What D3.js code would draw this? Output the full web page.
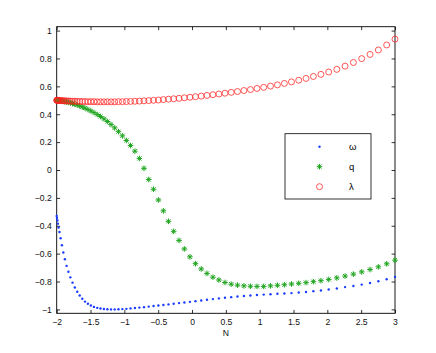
<!DOCTYPE html>
<html>
<head>
<meta charset="utf-8">
<script src="https://cdn.jsdelivr.net/npm/d3@7"></script>
<style>
html,body{margin:0;padding:0;background:#fff;}
svg{display:block;}
text{font-family:"Liberation Sans",Arial,Helvetica,sans-serif;}
</style>
</head>
<body>
<svg id="chart" width="436" height="353"></svg>
<script>
// ---- data ----
const N = [-2.000,-1.996,-1.990,-1.982,-1.972,-1.959,-1.942,-1.923,-1.902,-1.879,
 -1.854,-1.827,-1.798,-1.766,-1.732,-1.697,-1.660,-1.622,-1.582,-1.539,
 -1.495,-1.449,-1.401,-1.353,-1.302,-1.251,-1.197,-1.143,-1.087,-1.029,
 -0.970,-0.909,-0.844,-0.778,-0.710,-0.640,-0.569,-0.497,-0.423,-0.348,
 -0.271,-0.192,-0.113,-0.031,0.051,0.136,0.221,0.309,0.397,0.487,
 0.579,0.672,0.767,0.863,0.960,1.059,1.160,1.262,1.365,1.470,
 1.577,1.685,1.794,1.905,2.020,2.140,2.262,2.385,2.508,2.631,
 2.754,2.877,3.000];
const omega = [-0.330,-0.345,-0.362,-0.385,-0.412,-0.445,-0.490,-0.540,-0.592,-0.640,
 -0.688,-0.730,-0.770,-0.808,-0.843,-0.873,-0.900,-0.924,-0.944,-0.960,
 -0.972,-0.982,-0.989,-0.994,-0.997,-0.999,-1.000,-1.000,-0.999,-0.998,
 -0.996,-0.993,-0.990,-0.987,-0.984,-0.980,-0.976,-0.972,-0.968,-0.964,
 -0.960,-0.955,-0.951,-0.946,-0.941,-0.936,-0.931,-0.926,-0.921,-0.916,
 -0.912,-0.908,-0.904,-0.900,-0.897,-0.894,-0.891,-0.888,-0.886,-0.883,
 -0.879,-0.875,-0.869,-0.864,-0.857,-0.850,-0.840,-0.832,-0.822,-0.811,
 -0.798,-0.784,-0.767];
const q = [0.500,0.500,0.500,0.499,0.499,0.498,0.497,0.495,0.493,0.491,
 0.488,0.485,0.481,0.477,0.472,0.466,0.460,0.452,0.444,0.434,
 0.424,0.412,0.398,0.384,0.367,0.348,0.326,0.302,0.275,0.245,
 0.212,0.176,0.135,0.083,0.012,-0.068,-0.138,-0.215,-0.293,-0.368,
 -0.440,-0.505,-0.566,-0.623,-0.672,-0.710,-0.742,-0.769,-0.789,-0.807,
 -0.819,-0.826,-0.831,-0.834,-0.835,-0.835,-0.831,-0.827,-0.823,-0.818,
 -0.813,-0.808,-0.801,-0.794,-0.785,-0.774,-0.761,-0.747,-0.731,-0.714,
 -0.695,-0.673,-0.647];
const lambda = [0.500,0.500,0.500,0.500,0.499,0.499,0.498,0.497,0.497,0.496,
 0.495,0.495,0.494,0.493,0.493,0.492,0.492,0.491,0.491,0.490,
 0.490,0.490,0.489,0.489,0.489,0.489,0.489,0.489,0.490,0.490,
 0.491,0.492,0.493,0.494,0.496,0.498,0.500,0.502,0.505,0.508,
 0.511,0.514,0.518,0.522,0.526,0.530,0.535,0.540,0.545,0.551,
 0.557,0.563,0.570,0.577,0.585,0.593,0.602,0.611,0.621,0.632,
 0.644,0.657,0.671,0.686,0.703,0.722,0.745,0.771,0.799,0.829,
 0.861,0.897,0.939];
const xTicks = [-2,-1.5,-1,-0.5,0,0.5,1,1.5,2,2.5,3];
const xTickLabels = ["\u22122","\u22121.5","\u22121","\u22120.5","0","0.5","1","1.5","2","2.5","3"];
const yTicks = [-1,-0.8,-0.6,-0.4,-0.2,0,0.2,0.4,0.6,0.8,1];
const yTickLabels = ["\u22121","\u22120.8","\u22120.6","\u22120.4","\u22120.2","0","0.2","0.4","0.6","0.8","1"];
const seriesNames = ["\u03c9","q","\u03bb"];
const xLabel = "N";

// ---- layout ----
const L = 56.7, R = 395, T = 26.7, B = 313.3;
const svg = d3.select("#chart");
const x = d3.scaleLinear().domain([-2,3]).range([L,R]);
const y = d3.scaleLinear().domain([-1.028,1.028]).range([B,T]);
const fs = 8.6;
const tk = 3.4;

// axes
const gx = svg.append("g").attr("transform",`translate(0,${B})`)
  .call(d3.axisBottom(x).tickValues(xTicks).tickFormat((d,i)=>xTickLabels[i])
    .tickSizeInner(-tk).tickSizeOuter(0).tickPadding(5.5));
const gxt = svg.append("g").attr("transform",`translate(0,${T})`)
  .call(d3.axisTop(x).tickValues(xTicks).tickFormat("").tickSizeInner(-tk).tickSizeOuter(0));
const gy = svg.append("g").attr("transform",`translate(${L},0)`)
  .call(d3.axisLeft(y).tickValues(yTicks).tickFormat((d,i)=>yTickLabels[i])
    .tickSizeInner(-tk).tickSizeOuter(0).tickPadding(5));
const gyr = svg.append("g").attr("transform",`translate(${R},0)`)
  .call(d3.axisRight(y).tickValues(yTicks).tickFormat("").tickSizeInner(-tk).tickSizeOuter(0));
[gx,gxt,gy,gyr].forEach(g=>{
  g.select(".domain").remove();
  g.selectAll(".tick line").attr("stroke","#000").attr("stroke-width",0.8);
  g.selectAll(".tick text").attr("fill","#111").attr("font-size",fs)
    .attr("font-family","'Liberation Sans',Arial,Helvetica,sans-serif");
});

// box
svg.append("rect").attr("x",L).attr("y",T).attr("width",R-L).attr("height",B-T)
  .attr("fill","none").attr("stroke","#000").attr("stroke-width",0.9);

// axis label
svg.append("text").attr("x",(L+R)/2).attr("y",336).attr("text-anchor","middle")
  .attr("font-size",fs).attr("fill","#111").text(xLabel);

// markers
const star = (cx,cy,s) => `M${cx-s},${cy}L${cx+s},${cy}M${cx},${cy-s}L${cx},${cy+s}` +
  `M${cx-s*0.72},${cy-s*0.72}L${cx+s*0.72},${cy+s*0.72}M${cx-s*0.72},${cy+s*0.72}L${cx+s*0.72},${cy-s*0.72}`;

const pts = N.map((n,i)=>({n,w:omega[i],q:q[i],l:lambda[i]}));
const gPlot = svg.append("g");
gPlot.selectAll("circle.w").data(pts).join("circle").attr("class","w")
  .attr("cx",d=>x(d.n)).attr("cy",d=>y(d.w)).attr("r",1.2).attr("fill","#1a3cff");
gPlot.selectAll("path.q").data(pts).join("path").attr("class","q")
  .attr("d",d=>star(x(d.n),y(d.q),2.8)).attr("stroke","#1fa51f").attr("stroke-width",1).attr("fill","none");
gPlot.selectAll("circle.l").data(pts).join("circle").attr("class","l")
  .attr("cx",d=>x(d.n)).attr("cy",d=>y(d.l)).attr("r",3).attr("fill","none")
  .attr("stroke","#ff2020").attr("stroke-width",0.75);

// legend
const lg = svg.append("g");
lg.append("rect").attr("x",285).attr("y",133.7).attr("width",86).attr("height",65.3)
  .attr("fill","#fff").attr("stroke","#000").attr("stroke-width",0.8);
const ly = [146.7,166.7,186.7];
const mx = 319.5;
lg.append("circle").attr("cx",mx).attr("cy",ly[0]).attr("r",1.2).attr("fill","#1a3cff");
lg.append("path").attr("d",star(mx,ly[1],2.8)).attr("stroke","#1fa51f").attr("stroke-width",1);
lg.append("circle").attr("cx",mx).attr("cy",ly[2]).attr("r",3).attr("fill","none")
  .attr("stroke","#ff2020").attr("stroke-width",0.75);
seriesNames.forEach((s,i)=>{
  lg.append("text").attr("x",349).attr("y",ly[i]).attr("dy","0.35em")
    .attr("font-size",9.5).attr("fill","#000").text(s);
});
</script>
</body>
</html>
